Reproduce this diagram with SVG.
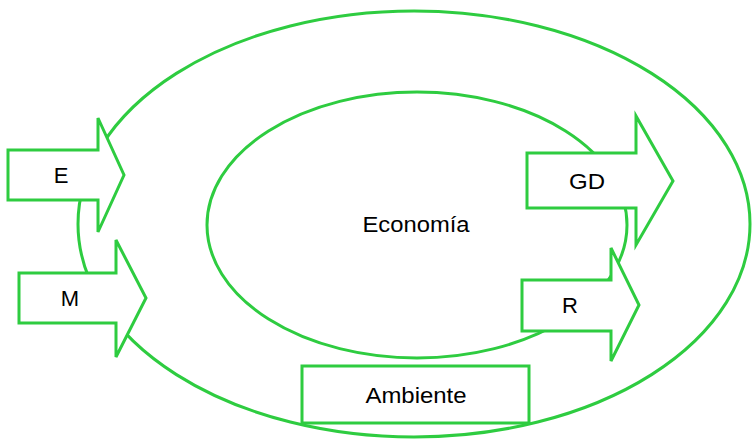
<svg xmlns="http://www.w3.org/2000/svg" width="752" height="442" viewBox="0 0 752 442">
<style>
.s{fill:#fff;stroke:#2ECC40;stroke-width:3}
.e{fill:none;stroke:#2ECC40;stroke-width:3}
text{font-family:"Liberation Sans",Arial,sans-serif;font-size:22px;fill:#000;text-anchor:middle;dominant-baseline:central}
</style>
<g id="connectors"></g>
<g id="ambiente-ellipse"><ellipse class="e" cx="414" cy="224" rx="336" ry="213"/></g>
<g id="economia"><ellipse class="e" cx="417" cy="225" rx="210" ry="133"/><text x="416" y="224" textLength="107" lengthAdjust="spacingAndGlyphs">Economía</text></g>
<g id="E"><polygon class="s" points="8,150 98,150 98,118 124,175 98,232 98,200 8,200"/><text x="61" y="175">E</text></g>
<g id="M"><polygon class="s" points="19,273 116,273 116,240 146,298 116,357 116,323 19,323"/><text x="70" y="298">M</text></g>
<g id="GD"><polygon class="s" points="527,153 636,153 636,116 673,181 636,245 636,208 527,208"/><text x="587" y="181" textLength="36" lengthAdjust="spacingAndGlyphs">GD</text></g>
<g id="R"><polygon class="s" points="522,280 611,280 611,248 639,305 611,361 611,331 522,331"/><text x="570" y="305">R</text></g>
<g id="Ambiente"><rect class="s" x="302" y="366" width="227" height="57"/><text x="416" y="395" textLength="101" lengthAdjust="spacingAndGlyphs">Ambiente</text></g>
</svg>
